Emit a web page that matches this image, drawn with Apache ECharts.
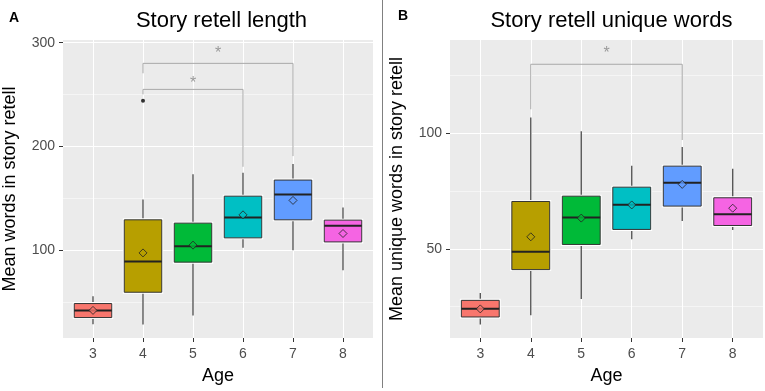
<!DOCTYPE html>
<html>
<head>
<meta charset="utf-8">
<script src="https://cdn.jsdelivr.net/npm/echarts@6/dist/echarts.min.js"></script>
<style>
  html, body { margin: 0; padding: 0; background: #fff; }
  #main { width: 765px; height: 391px; }
</style>
</head>
<body>
<div id="main"></div>
<script>
// ages on the x axis
var ages = [3, 4, 5, 6, 7, 8];
var boxColors = ['#F8766D', '#B79F00', '#00BA38', '#00BFC4', '#619CFF', '#F564E3'];

// A: story retell length (whisker low, q1, median, q3, whisker high, mean)
var lenLow  = [28.7, 28.4, 37, 102.3, 100, 80.7];
var lenQ1   = [35.1, 59.5, 88.5, 111.9, 129.3, 108];
var lenMed  = [41.9, 89.1, 103.9, 131.6, 153.8, 123.5];
var lenQ3   = [48.6, 129.3, 126.1, 152.1, 167.6, 129];
var lenHigh = [55.7, 149, 173.3, 174.6, 183, 141.2];
var lenMean = [42, 97.4, 104.9, 134.1, 148, 116.1];
var lenOutliers = [[4, 244]];
var lenMajor = [100, 200, 300];
var lenMinor = [50, 150, 250];
// bracket: from age, to age, top, left end, right end, star height
var lenBrackets = [[4, 7, 280.1, 270.5, 190.7, 293.6], [4, 6, 255, 250.2, 180.4, 264]];

// B: story retell unique words
var uniLow  = [17.2, 21.2, 28.3, 54.2, 62.1, 58.2];
var uniQ1   = [20.5, 41, 51.9, 58.4, 68.5, 60.1];
var uniMed  = [24.1, 48.7, 63.6, 69.1, 78.6, 65];
var uniQ3   = [27.7, 70.5, 72.8, 76.7, 85.8, 72.1];
var uniHigh = [30.9, 106.9, 100.9, 86, 94.1, 84.7];
var uniMean = [24, 55.2, 63.3, 69, 77.9, 67.6];
var uniOutliers = [];
var uniMajor = [50, 100];
var uniMinor = [25, 75, 125];
var uniBrackets = [[4, 7, 129.9, 110.4, 97.1, 136.4]];

var FONT = '"Liberation Sans", Arial, Helvetica, sans-serif';

function boxRows(low, q1, med, q3, high){
	var rows = [];
	for (var i = 0; i < ages.length; i++){
		rows.push([ages[i], low[i], q1[i], med[i], q3[i], high[i], i]);
	}
	return rows;
}
function meanRows(mean){
	var rows = [];
	for (var i = 0; i < ages.length; i++){
		rows.push({value: [ages[i], mean[i]], itemStyle: {color: boxColors[i]}});
	}
	return rows;
}

function renderBox(params, api){
	var x = api.value(0);
	var pLow = api.coord([x, api.value(1)]);
	var pQ1 = api.coord([x, api.value(2)]);
	var pMed = api.coord([x, api.value(3)]);
	var pQ3 = api.coord([x, api.value(4)]);
	var pHigh = api.coord([x, api.value(5)]);
	var w = api.size([0.75, 0])[0];
	var cx = pMed[0];
	var color = boxColors[api.value(6)];
	var rect = {x: cx - w / 2, y: pQ3[1], width: w, height: pQ1[1] - pQ3[1]};
	return {
		type: 'group',
		children: [
			{type: 'line', shape: {x1: cx, y1: pHigh[1], x2: cx, y2: pQ3[1]}, style: {stroke: '#4D4D4D', lineWidth: 1.3}},
			{type: 'line', shape: {x1: cx, y1: pQ1[1], x2: cx, y2: pLow[1]}, style: {stroke: '#4D4D4D', lineWidth: 1.3}},
			{type: 'rect', shape: rect, style: {fill: color, stroke: '#fff', lineWidth: 3}},
			{type: 'rect', shape: rect, style: {fill: color, stroke: '#333', lineWidth: 1}},
			{type: 'line', shape: {x1: cx - w / 2, y1: pMed[1], x2: cx + w / 2, y2: pMed[1]}, style: {stroke: '#222', lineWidth: 2}}
		]
	};
}

function renderBracket(params, api){
	var x1 = api.value(0), x2 = api.value(1);
	var top = api.value(2);
	var a = api.coord([x1, api.value(3)]);
	var b = api.coord([x1, top]);
	var c = api.coord([x2, top]);
	var d = api.coord([x2, api.value(4)]);
	var s = api.coord([(x1 + x2) / 2, api.value(5)]);
	return {
		type: 'group',
		children: [
			{type: 'polyline', shape: {points: [a, b, c, d]}, style: {stroke: '#A8A8A8', lineWidth: 1, fill: null}},
			{type: 'text', x: s[0], y: s[1] + 4, style: {text: '*', fill: '#9A9A9A', font: '16px ' + FONT, align: 'center', verticalAlign: 'middle'}}
		]
	};
}

function xAxisOf(grid){
	return {
		gridIndex: grid, type: 'value', min: 2.4, max: 8.6,
		name: 'Age', nameLocation: 'middle', nameGap: 29,
		nameTextStyle: {fontSize: 18, color: '#000', fontFamily: FONT},
		axisLine: {show: false},
		axisTick: {show: true, length: 4, lineStyle: {color: '#333'}, customValues: ages},
		axisLabel: {customValues: ages, color: '#4D4D4D', fontSize: 14, margin: 9, fontFamily: FONT},
		splitLine: {show: true, lineStyle: {color: '#fff', width: 1}}
	};
}
function yMajor(grid, min, max, ticks, name){
	return {
		gridIndex: grid, type: 'value', min: min, max: max,
		name: name, nameLocation: 'middle', nameGap: 44,
		nameTextStyle: {fontSize: 18, color: '#000', fontFamily: FONT},
		axisLine: {show: false},
		axisTick: {show: true, length: 4, lineStyle: {color: '#333'}, customValues: ticks},
		axisLabel: {customValues: ticks, color: '#4D4D4D', fontSize: 14, margin: 8, fontFamily: FONT},
		splitLine: {show: true, lineStyle: {color: '#fff', width: 1.1}}
	};
}
function yMinor(grid, min, max, ticks){
	return {
		gridIndex: grid, type: 'value', min: min, max: max, position: 'left',
		axisLine: {show: false},
		axisTick: {show: false, customValues: ticks},
		axisLabel: {show: false},
		splitLine: {show: true, lineStyle: {color: '#fff', width: 0.5}}
	};
}

var chart = echarts.init(document.getElementById('main'), null, {renderer: 'canvas'});

var option = {
	backgroundColor: '#fff',
	animation: false,
	textStyle: {fontFamily: FONT},
	title: [
		{text: 'Story retell length', left: 216.5, top: 5, textAlign: 'center', textStyle: {fontSize: 22, fontWeight: 'normal', color: '#000', fontFamily: FONT}},
		{text: 'Story retell unique words', left: 606.5, top: 5, textAlign: 'center', textStyle: {fontSize: 22, fontWeight: 'normal', color: '#000', fontFamily: FONT}},
		{text: 'A', left: 4, top: 6, textStyle: {fontSize: 14, fontWeight: 'bold', color: '#000', fontFamily: FONT}},
		{text: 'B', left: 393, top: 4, textStyle: {fontSize: 14, fontWeight: 'bold', color: '#000', fontFamily: FONT}}
	],
	graphic: [
		{type: 'line', shape: {x1: 382.5, y1: 0, x2: 382.5, y2: 388}, style: {stroke: '#808080', lineWidth: 1}}
	],
	grid: [
		{left: 60, right: 392, top: 40, bottom: 53, show: true, backgroundColor: '#EBEBEB', borderWidth: 0},
		{left: 450, right: 2, top: 40, bottom: 53, show: true, backgroundColor: '#EBEBEB', borderWidth: 0}
	],
	xAxis: [xAxisOf(0), xAxisOf(1)],
	yAxis: [
		yMajor(0, 15.4, 302.6, lenMajor, 'Mean words in story retell'),
		yMinor(0, 15.4, 302.6, lenMinor),
		yMajor(1, 11.4, 140.4, uniMajor, 'Mean unique words in story retell'),
		yMinor(1, 11.4, 140.4, uniMinor)
	],
	series: [
		{type: 'custom', xAxisIndex: 0, yAxisIndex: 0, z: 5, renderItem: renderBox, encode: {x: 0, y: [1, 2, 3, 4, 5]},
			data: boxRows(lenLow, lenQ1, lenMed, lenQ3, lenHigh)},
		{type: 'scatter', xAxisIndex: 0, yAxisIndex: 0, z: 6, symbol: 'diamond', symbolSize: 8,
			itemStyle: {borderColor: '#222', borderWidth: 1}, data: meanRows(lenMean)},
		{type: 'scatter', xAxisIndex: 0, yAxisIndex: 0, z: 6, symbol: 'circle', symbolSize: 4,
			itemStyle: {color: '#000'}, data: lenOutliers},
		{type: 'custom', xAxisIndex: 0, yAxisIndex: 0, z: 4, renderItem: renderBracket, encode: {x: [0, 1], y: [2, 3, 4]},
			data: lenBrackets},

		{type: 'custom', xAxisIndex: 1, yAxisIndex: 2, z: 5, renderItem: renderBox, encode: {x: 0, y: [1, 2, 3, 4, 5]},
			data: boxRows(uniLow, uniQ1, uniMed, uniQ3, uniHigh)},
		{type: 'scatter', xAxisIndex: 1, yAxisIndex: 2, z: 6, symbol: 'diamond', symbolSize: 8,
			itemStyle: {borderColor: '#222', borderWidth: 1}, data: meanRows(uniMean)},
		{type: 'scatter', xAxisIndex: 1, yAxisIndex: 2, z: 6, symbol: 'circle', symbolSize: 4,
			itemStyle: {color: '#000'}, data: uniOutliers},
		{type: 'custom', xAxisIndex: 1, yAxisIndex: 2, z: 4, renderItem: renderBracket, encode: {x: [0, 1], y: [2, 3, 4]},
			data: uniBrackets}
	]
};
chart.setOption(option);
</script>
</body>
</html>
